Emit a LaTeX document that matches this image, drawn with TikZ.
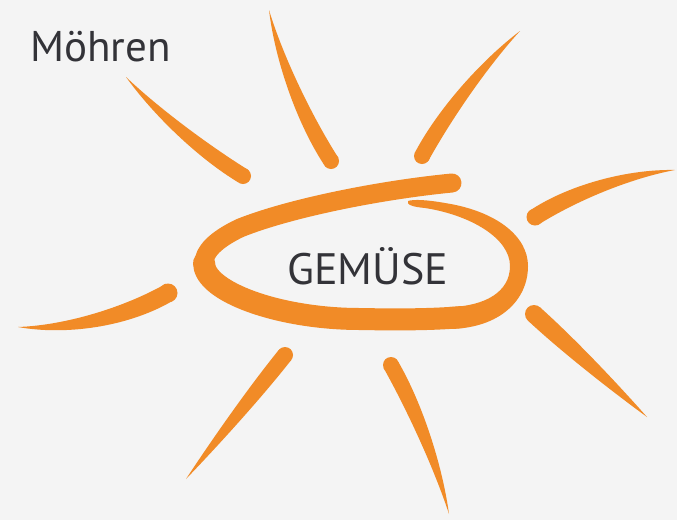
\documentclass[tikz,border=0pt]{standalone}
\usepackage{fontspec}
\newfontfamily\ptsans{PT Sans}
\usetikzlibrary{calc}
\definecolor{bgcol}{HTML}{F4F4F4}
\definecolor{orng}{HTML}{F18B27}
\definecolor{txtcol}{HTML}{333338}
\newcommand\myray[4]{%
  \fill[orng] (#2) circle[radius=#3pt];
  \fill[orng] ($(#2)!#3pt!90:(#1)$)
    .. controls ($(#2)!0.3!(#1)!#4pt!90:(#1)!{1.05*#3pt}!90:(#1)$)
       and ($(#2)!0.7!(#1)!#4pt!90:(#1)!{0.55*#3pt}!90:(#1)$) .. (#1)
    .. controls ($(#2)!0.7!(#1)!#4pt!90:(#1)!{0.55*#3pt}!-90:(#1)$)
       and ($(#2)!0.3!(#1)!#4pt!90:(#1)!{1.05*#3pt}!-90:(#1)$) .. ($(#2)!#3pt!-90:(#1)$) -- cycle;}
\begin{document}
\begin{tikzpicture}[x=1pt,y=-1pt,
  loop/.style={draw=orng,line cap=round,line join=round},
  lbl/.style={inner sep=0pt,text=txtcol,font=\ptsans}]
\fill[bgcol] (0,0) rectangle (677,520);
\useasboundingbox (0,0) rectangle (677,520);
% ray coordinates: a = thin end, b = thick end
\coordinate (r1a) at (126,77);  \coordinate (r1b) at (243,176);
\coordinate (r2a) at (269,10);  \coordinate (r2b) at (331,161);
\coordinate (r3a) at (520,31);  \coordinate (r3b) at (422,156);
\coordinate (r4a) at (675,170); \coordinate (r4b) at (535,217);
\coordinate (r5a) at (18,327);  \coordinate (r5b) at (168,293);
\coordinate (r6a) at (186,479); \coordinate (r6b) at (285,355);
\coordinate (r7a) at (449,514); \coordinate (r7b) at (391,365);
\coordinate (r8a) at (647,417); \coordinate (r8b) at (534,314);
\myray{r1a}{r1b}{8}{7}
\myray{r2a}{r2b}{8}{9}
\myray{r3a}{r3b}{8}{8}
\myray{r4a}{r4b}{8.5}{11}
\myray{r5a}{r5b}{9.5}{14}
\myray{r6a}{r6b}{8}{0}
\myray{r7a}{r7b}{8}{7}
\myray{r8a}{r8b}{9}{0}
% the loop
\coordinate (o0) at (452,183);
\coordinate (o1) at (240,228);
\coordinate (o2) at (204,263);
\coordinate (o3) at (360,319);
\coordinate (o4) at (462,317);
\draw[loop,line width=19pt] (o0) .. controls (380,190) and (290,208) .. (o1)
  .. controls (215,240) and (204,252) .. (o2);
\draw[loop,line width=22pt] (o2) .. controls (204,292) and (280,319) .. (o3)
  .. controls (410,320) and (440,319) .. (o4);
% right side and inner tapered end of the loop
\fill[orng] (450,329) .. controls (500,328) and (528,300) .. (528,266)
  .. controls (528,236) and (496,211) .. (445,203)
  .. controls (428,200) and (414,199) .. (408,201)
  .. controls (406,205) and (414,207) .. (425,208)
  .. controls (470,215) and (510,238) .. (510,266)
  .. controls (510,292) and (485,306) .. (450,307) -- cycle;
% texts
\node[lbl,anchor=base west,font=\ptsans\fontsize{43}{43}\selectfont] (mohren) at (30,61) {Möhren};
\node[lbl,anchor=base west,font=\ptsans\fontsize{44}{44}\selectfont] (gemuese) at (287,284) {GEMÜSE};
\end{tikzpicture}
\end{document}
